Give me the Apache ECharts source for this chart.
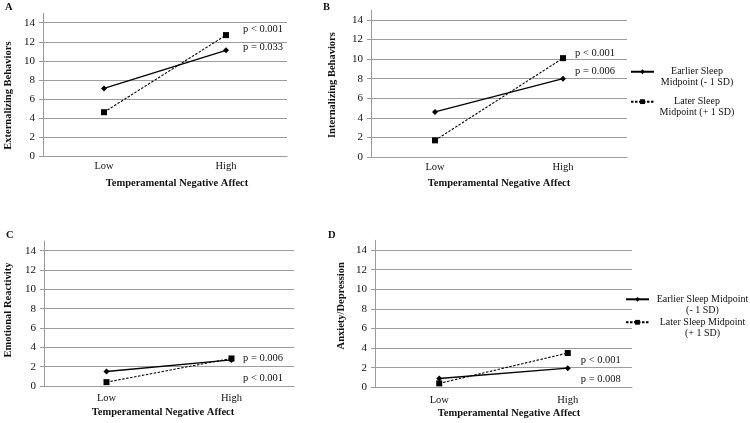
<!DOCTYPE html>
<html>
<head>
<meta charset="utf-8">
<script src="https://cdn.jsdelivr.net/npm/echarts@6/dist/echarts.min.js"></script>
<style>html,body{margin:0;padding:0;background:#fff;}#c{width:750px;height:423px;}</style>
</head>
<body>
<div id="c"></div>
<script>
// ---- data ----
const categories = ['Low', 'High'];
const yTicks = [0, 2, 4, 6, 8, 10, 12, 14];
const panelLetters = ['A', 'B', 'C', 'D'];
const yTitles = ['Externalizing Behaviors', 'Internalizing Behaviors', 'Emotional Reactivity', 'Anxiety/Depression'];
const xTitle = 'Temperamental Negative Affect';
const earlierName = 'Earlier Sleep Midpoint (- 1 SD)';
const laterName = 'Later Sleep Midpoint (+ 1 SD)';

const extEarlier = [7.1, 11.1];
const extLater = [4.6, 12.7];
const intEarlier = [4.6, 8.0];
const intLater = [1.7, 10.1];
const emoEarlier = [1.5, 2.7];
const emoLater = [0.4, 2.85];
const anxEarlier = [0.9, 1.95];
const anxLater = [0.4, 3.5];

const pEarlier = ['p = 0.033', 'p = 0.006', 'p = 0.006', 'p = 0.008'];
const pLater = ['p < 0.001', 'p < 0.001', 'p < 0.001', 'p < 0.001'];

const earlierData = [extEarlier, intEarlier, emoEarlier, anxEarlier];
const laterData = [extLater, intLater, emoLater, anxLater];

// ---- layout / style ----
const FONT = 'Liberation Serif';
const TXT = '#111';
const GRIDC = '#9c9c9c';
const grids = [
  {left: 43, top: 13.2, width: 244, height: 142.8},
  {left: 371, top: 10.2, width: 256, height: 146.8},
  {left: 44, top: 241, width: 250, height: 145},
  {left: 375, top: 240.3, width: 257, height: 147}
];
const xLabelMargin = [5, 5, 7, 7];
const xNameGap = [22, 21, 21, 20];
const xNamePad = [[0,0,0,24],[0,0,0,0],[0,12,0,0],[0,0,0,11]];
const yNameGap = [29, 33, 30, 28];
const yNamePad = [[0,22,0,0],[0,3,0,0],[0,0,0,7],[0,0,0,16]];
const offEarlier = [[9,-3],[4,-7],[3.5,-2],[5,10.8]];
const offLater = [[9,-6],[4,-5.4],[3.5,19.5],[5,7.7]];
const letterPos = [[5,1.5],[323,1.5],[6,229.5],[328,229.5]];

const xAxes = [], yAxes = [], series = [], titles = [];
for (let i = 0; i < 4; i++) {
  xAxes.push({
    type: 'category', gridIndex: i, data: categories, boundaryGap: true,
    axisLine: {lineStyle: {color: GRIDC, width: 1}},
    axisTick: {show: false},
    axisLabel: {color: TXT, fontFamily: FONT, fontSize: 10.5, margin: xLabelMargin[i]},
    name: xTitle, nameLocation: 'middle', nameGap: xNameGap[i],
    nameTextStyle: {color: TXT, fontFamily: FONT, fontWeight: 'bold', fontSize: 10.5, padding: xNamePad[i]}
  });
  yAxes.push({
    type: 'value', gridIndex: i, min: 0, max: 15, interval: 2,
    axisLine: {show: true, lineStyle: {color: GRIDC, width: 1}},
    axisTick: {show: true, length: 4, customValues: yTicks, lineStyle: {color: GRIDC}},
    axisLabel: {color: TXT, fontFamily: FONT, fontSize: 11, margin: 8, customValues: yTicks},
    splitLine: {show: true, lineStyle: {color: GRIDC, width: 1}},
    name: yTitles[i], nameLocation: 'middle', nameGap: yNameGap[i], nameRotate: 90,
    nameTextStyle: {color: TXT, fontFamily: FONT, fontWeight: 'bold', fontSize: 10.5, padding: yNamePad[i]}
  });
  const lab = (txt, off) => ({show: true, formatter: txt, position: 'right', distance: 5, offset: off,
    color: TXT, fontFamily: FONT, fontSize: 10.5});
  series.push({
    name: earlierName, type: 'line', xAxisIndex: i, yAxisIndex: i,
    symbol: 'diamond', symbolSize: 6, showSymbol: true,
    lineStyle: {color: '#000', width: 1.3, type: 'solid'},
    itemStyle: {color: '#000'},
    data: earlierData[i].map((v, k) => k === 1 ? {value: v, label: lab(pEarlier[i], offEarlier[i])} : v),
    animation: false, z: 3
  });
  series.push({
    name: laterName, type: 'line', xAxisIndex: i, yAxisIndex: i,
    symbol: 'rect', symbolSize: 6, showSymbol: true,
    lineStyle: {color: '#000', width: 1.1, type: [2.5, 1.5]},
    itemStyle: {color: '#000'},
    data: laterData[i].map((v, k) => k === 1 ? {value: v, label: lab(pLater[i], offLater[i])} : v),
    animation: false, z: 3
  });
  titles.push({text: panelLetters[i], left: letterPos[i][0], top: letterPos[i][1], padding: 0,
    textStyle: {fontFamily: FONT, fontWeight: 'bold', fontSize: 10.5, color: TXT}});
}

const legendB = {
  orient: 'vertical', left: 630, top: 56.3, padding: 0, itemGap: -1,
  itemWidth: 23, itemHeight: 6, data: [earlierName, laterName],
  formatter: n => n === earlierName ? '{a|Earlier Sleep}\n{a|Midpoint (- 1 SD)}' : '{a|Later Sleep}\n{a|Midpoint (+ 1 SD)}',
  textStyle: {fontFamily: FONT, fontSize: 10, color: TXT, lineHeight: 10.3, padding: [10.3, 0, 0, 0],
    rich: {a: {width: 76, align: 'center', fontFamily: FONT, fontSize: 10, color: TXT, lineHeight: 10.3}}}
};
const legendD = {
  orient: 'vertical', left: 625, top: 282.8, padding: 0, itemGap: -10,
  itemWidth: 23, itemHeight: 6, data: [earlierName, laterName],
  formatter: n => n === earlierName ? '{a|Earlier Sleep Midpoint}\n{a|(- 1 SD)}' : '{a|Later Sleep Midpoint}\n{a|(+ 1 SD)}',
  textStyle: {fontFamily: FONT, fontSize: 10, color: TXT, lineHeight: 11, padding: [11, 0, 0, 0],
    rich: {a: {width: 97, align: 'center', fontFamily: FONT, fontSize: 10, color: TXT, lineHeight: 11}}}
};

const chart = echarts.init(document.getElementById('c'), null, {renderer: 'canvas'});
chart.setOption({
  backgroundColor: '#fff',
  animation: false,
  title: titles,
  legend: [legendB, legendD],
  grid: grids,
  xAxis: xAxes,
  yAxis: yAxes,
  series: series
});
</script>
</body>
</html>
